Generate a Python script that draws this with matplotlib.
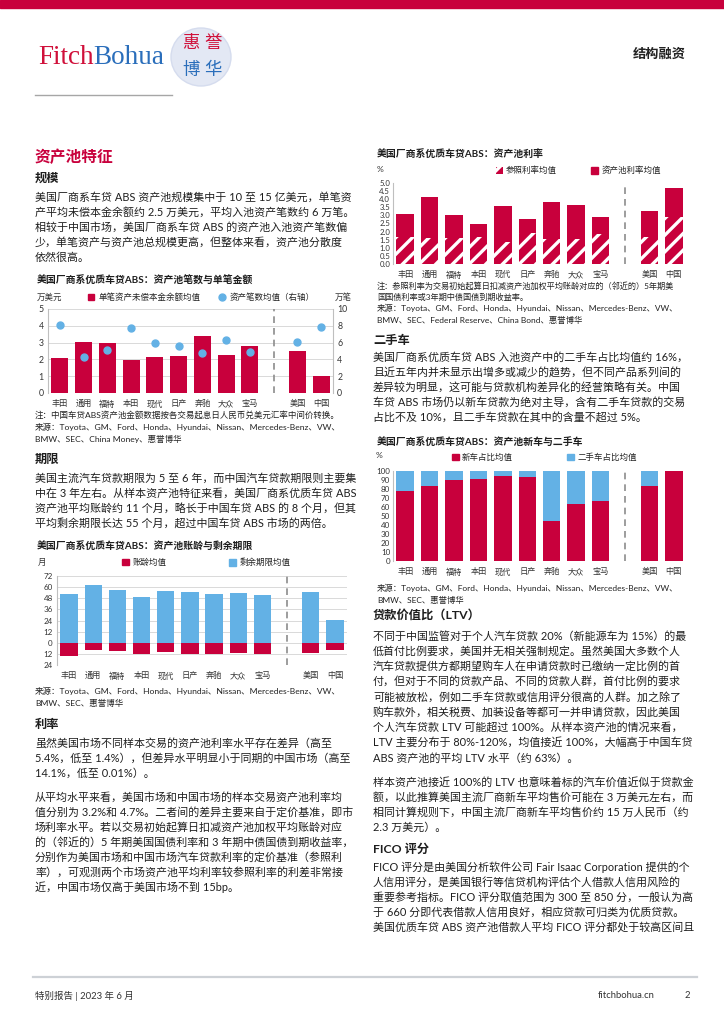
import matplotlib
matplotlib.use('Agg')
import matplotlib.pyplot as plt
from matplotlib.patches import Rectangle, Ellipse, Patch
from matplotlib.lines import Line2D
from matplotlib.ticker import FuncFormatter

W, H = 724, 1024
RED = '#C8003C'
BLUE = '#63B1E5'
GRID = '#D9D9D9'
TXT = '#1e1e1e'

plt.rcParams['font.family'] = ['Lato', 'Noto Sans CJK SC', 'DejaVu Sans']
plt.rcParams['hatch.linewidth'] = 2.4

# ---- chart data ----
brands = ['丰田', '通用', '福特', '本田', '现代', '日产', '奔驰', '大众', '宝马', '美国', '中国']
amount = [2.08, 3.02, 2.98, 1.96, 2.16, 2.22, 3.37, 2.24, 2.82, 2.52, 1.03]   # 万美元
loan_count = [8.1, 4.25, 5.08, 7.7, 5.9, 5.63, 4.72, 6.27, 4.84, 6.03, 7.86]  # 万笔
pool_rate = [3.07, 4.16, 3.03, 2.5, 3.57, 2.77, 3.81, 3.67, 2.93, 3.26, 4.69]
ref_rate = [1.66, 1.58, 1.58, 1.68, 1.37, 1.89, 1.54, 1.54, 1.86, 1.66, 2.93]
new_share = [77.5, 83, 89.7, 90.8, 94.5, 93, 44.6, 63.5, 66.8, 83, 100]
seasoning = [14.0, 7.9, 9.0, 12.5, 10.0, 11.8, 12.2, 10.8, 12.5, 11.1, 8.2]
remaining = [52.7, 62.0, 56.6, 49.1, 56.3, 54.8, 53.0, 54.1, 51.3, 55.2, 24.4]

# ---- page text ----
p_scale = ['美国厂商系车贷 ABS 资产池规模集中于 10 至 15 亿美元，单笔资',
           '产平均未偿本金余额约 2.5 万美元，平均入池资产笔数约 6 万笔。',
           '相较于中国市场，美国厂商系车贷 ABS 的资产池入池资产笔数偏',
           '少，单笔资产与资产池总规模更高，但整体来看，资产池分散度',
           '依然很高。']
note1 = ['注：中国车贷ABS资产池金额数据按各交易起息日人民币兑美元汇率中间价转换。',
         '来源：Toyota、GM、Ford、Honda、Hyundai、Nissan、Mercedes-Benz、VW、',
         'BMW、SEC、China Money、惠誉博华']
p_term = ['美国主流汽车贷款期限为 5 至 6 年，而中国汽车贷款期限则主要集',
          '中在 3 年左右。从样本资产池特征来看，美国厂商系优质车贷 ABS',
          '资产池平均账龄约 11 个月，略长于中国车贷 ABS 的 8 个月，但其',
          '平均剩余期限长达 55 个月，超过中国车贷 ABS 市场的两倍。']
src_basic = ['来源：Toyota、GM、Ford、Honda、Hyundai、Nissan、Mercedes-Benz、VW、',
             'BMW、SEC、惠誉博华']
p_rate1 = ['虽然美国市场不同样本交易的资产池利率水平存在差异（高至',
           '5.4%，低至 1.4%），但差异水平明显小于同期的中国市场（高至',
           '14.1%，低至 0.01%）。']
p_rate2 = ['从平均水平来看，美国市场和中国市场的样本交易资产池利率均',
           '值分别为 3.2%和 4.7%。二者间的差异主要来自于定价基准，即市',
           '场利率水平。若以交易初始起算日扣减资产池加权平均账龄对应',
           '的（邻近的）5 年期美国国债利率和 3 年期中债国债到期收益率，',
           '分别作为美国市场和中国市场汽车贷款利率的定价基准（参照利',
           '率），可观测两个市场资产池平均利率较参照利率的利差非常接',
           '近，中国市场仅高于美国市场不到 15bp。']
note2 = ['注：参照利率为交易初始起算日扣减资产池加权平均账龄对应的（邻近的）5年期美',
         '国国债利率或3年期中债国债到期收益率。',
         '来源：Toyota、GM、Ford、Honda、Hyundai、Nissan、Mercedes-Benz、VW、',
         'BMW、SEC、Federal Reserve、China Bond、惠誉博华']
p_used = ['美国厂商系优质车贷 ABS 入池资产中的二手车占比均值约 16%，',
          '且近五年内并未显示出增多或减少的趋势，但不同产品系列间的',
          '差异较为明显，这可能与贷款机构差异化的经营策略有关。中国',
          '车贷 ABS 市场仍以新车贷款为绝对主导，含有二手车贷款的交易',
          '占比不及 10%，且二手车贷款在其中的含量不超过 5%。']
p_ltv1 = ['不同于中国监管对于个人汽车贷款 20%（新能源车为 15%）的最',
          '低首付比例要求，美国并无相关强制规定。虽然美国大多数个人',
          '汽车贷款提供方都期望购车人在申请贷款时已缴纳一定比例的首',
          '付，但对于不同的贷款产品、不同的贷款人群，首付比例的要求',
          '可能被放松，例如二手车贷款或信用评分很高的人群。加之除了',
          '购车款外，相关税费、加装设备等都可一并申请贷款，因此美国',
          '个人汽车贷款 LTV 可能超过 100%。从样本资产池的情况来看，',
          'LTV 主要分布于 80%-120%，均值接近 100%，大幅高于中国车贷',
          'ABS 资产池的平均 LTV 水平（约 63%）。']
p_ltv2 = ['样本资产池接近 100%的 LTV 也意味着标的汽车价值近似于贷款金',
          '额，以此推算美国主流厂商新车平均售价可能在 3 万美元左右，而',
          '相同计算规则下，中国主流厂商新车平均售价约 15 万人民币（约',
          '2.3 万美元）。']
p_fico = ['FICO 评分是由美国分析软件公司 Fair Isaac Corporation 提供的个',
          '人信用评分，是美国银行等信贷机构评估个人借款人信用风险的',
          '重要参考指标。FICO 评分取值范围为 300 至 850 分，一般认为高',
          '于 660 分即代表借款人信用良好，相应贷款可归类为优质贷款。',
          '美国优质车贷 ABS 资产池借款人平均 FICO 评分都处于较高区间且']

fig = plt.figure(figsize=(W / 100, H / 100), dpi=100)


def fx(x):
    return x / W


def fy(y):
    return 1 - y / H


def put(x, y, s, size, **kw):
    kw.setdefault('color', TXT)
    kw.setdefault('ha', 'left')
    return fig.text(fx(x), fy(y), s, fontsize=size, va='center', **kw)


def block(x, y0, lines, size=7.9, step=15.0, **kw):
    for i, s in enumerate(lines):
        put(x, y0 + i * step, s, size, **kw)


def panel(l, t, r, b):
    ax = fig.add_axes([fx(l), fy(b), (r - l) / W, (b - t) / H])
    for side in ['top', 'right', 'bottom']:
        ax.spines[side].set_visible(False)
    ax.spines['left'].set_color('#BFBFBF')
    ax.tick_params(length=0, labelsize=5.8, colors='#333333', pad=3)
    ax.tick_params(axis='x', labelsize=5.9, pad=4.5)
    ax.set_xlim(-0.5, 11.5)
    return ax


def key(handle, label, x, y):
    fig.legend([handle], [label], loc='center left', bbox_to_anchor=(fx(x), fy(y)),
               frameon=False, fontsize=6.1, handlelength=0.8, handleheight=0.8,
               handletextpad=0.4, borderpad=0, borderaxespad=0, labelcolor='#222222')


# slot 9 is the gap between brands and market averages
xpos = [i if i < 9 else i + 1 for i in range(len(brands))]
bw = 0.72

# ---- header ----
fig.patches.append(Rectangle((0, fy(8)), 1, 8 / H, transform=fig.transFigure,
                             color=RED, zorder=0))
t = fig.text(fx(38), fy(57), 'Fitch', fontsize=19.5, color='#D0103A',
             family='Liberation Serif', va='center')
r = fig.canvas.get_renderer()
bb = t.get_window_extent(renderer=r)
fig.text(bb.x1 / W, fy(57), 'Bohua', fontsize=19.5, color='#2A6EBB',
         family='Liberation Serif', va='center')
fig.patches.append(Ellipse((fx(201), fy(57)), 60 / W, 58 / H, transform=fig.transFigure,
                           facecolor='#E3E8F4', edgecolor='#D5DCEE', lw=1))
put(191, 43, '惠', 12.5, color='#D0103A', ha='center')
put(213, 43, '誉', 12.5, color='#D0103A', ha='center')
put(191, 70, '博', 12.5, color='#2A6EBB', ha='center')
put(213, 70, '华', 12.5, color='#2A6EBB', ha='center')
put(686, 54, '结构融资', 9.5, weight='bold', ha='right', color='#222222')
fig.add_artist(Line2D([fx(35), fx(172)], [fy(95), fy(95)], color='#A6A6A6', lw=1))

# ---- left column text ----
put(35, 157, '资产池特征', 11.3, weight='bold', color=RED)
put(35, 178, '规模', 8.8, weight='bold')
block(35, 197, p_scale)

# ---- chart 1: amount & count ----
put(37, 281, '美国厂商系优质车贷ABS：资产池笔数与单笔金额', 7.1, weight='bold')
put(37, 297, '万美元', 6.1, color='#333333')
put(335, 297, '万笔', 6.1, color='#333333')
ax1 = panel(48, 309, 333, 393)
ax1.grid(axis='y', color=GRID, lw=0.7, zorder=0)
ax1.bar(xpos, amount, width=bw, color=RED, zorder=2)
ax1.set_ylim(0, 5)
ax1.set_yticks(range(6))
ax1.set_xticks(xpos, brands)
ax1.tick_params(axis='y', labelsize=6.3)
ax1.axvline(9, color='#8C8C8C', ls=(0, (4, 3)), lw=1.2, zorder=3)
ax1r = ax1.twinx()
for side in ['top', 'left', 'bottom']:
    ax1r.spines[side].set_visible(False)
ax1r.spines['right'].set_color('#BFBFBF')
ax1r.plot(xpos, loan_count, 'o', color=BLUE, ms=5, zorder=4)
ax1r.set_ylim(0, 10)
ax1r.set_yticks(range(0, 11, 2))
ax1r.tick_params(length=0, labelsize=6.3, colors='#333333', pad=3)
key(Line2D([], [], marker='s', ls='', color=RED, ms=5), '单笔资产未偿本金余额均值', 88, 297)
key(Line2D([], [], marker='o', ls='', color=BLUE, ms=5), '资产笔数均值（右轴）', 219, 297)
block(35, 415, note1, size=6.1, step=12, color='#222222')

put(35, 459, '期限', 8.8, weight='bold')
block(35, 478, p_term)

# ---- chart 4: seasoning & remaining term ----
put(37, 547, '美国厂商系优质车贷ABS：资产池账龄与剩余期限', 7.1, weight='bold')
put(38, 562, '月', 6.1, color='#333333')
ax4 = panel(57, 576, 347, 665)
ax4.grid(axis='y', color=GRID, lw=0.7, zorder=0)
ax4.bar(xpos, remaining, width=bw, color=BLUE, zorder=2)
ax4.bar(xpos, [-v for v in seasoning], width=bw, color=RED, zorder=2)
ax4.set_ylim(-24, 72)
ax4.set_yticks(range(-24, 73, 12))
ax4.yaxis.set_major_formatter(FuncFormatter(lambda v, p: f'{abs(v):.0f}'))
ax4.set_xticks(xpos, brands)
ax4.axvline(9, color='#8C8C8C', ls=(0, (4, 3)), lw=1.2, zorder=3)
key(Patch(color=RED), '账龄均值', 122, 562)
key(Patch(color=BLUE), '剩余期限均值', 229, 562)
block(35, 691, src_basic, size=6.1, step=12, color='#222222')

put(35, 724, '利率', 8.8, weight='bold')
block(35, 743, p_rate1)
block(35, 797, p_rate2)

# ---- chart 2: pool rate ----
put(377, 154, '美国厂商系优质车贷ABS：资产池利率', 7.1, weight='bold')
put(377, 170, '%', 6.1, color='#333333')
ax2 = panel(393, 183, 686, 264)
ax2.bar(xpos, pool_rate, width=bw, color=RED, zorder=2)
ax2.bar(xpos, ref_rate, width=bw, color=RED, edgecolor='white', hatch='//', lw=0, zorder=3)
ax2.set_ylim(0, 5)
ax2.set_yticks([i * 0.5 for i in range(11)])
ax2.yaxis.set_major_formatter(FuncFormatter(lambda v, p: f'{v:.1f}'))
ax2.tick_params(axis='y', labelsize=5.6, pad=2)
ax2.set_xticks(xpos, brands)
ax2.axvline(9, color='#8C8C8C', ls=(0, (4, 3)), lw=1.2, zorder=4)
key(Patch(facecolor=RED, edgecolor='white', hatch='//', lw=0), '参照利率均值', 496, 170)
key(Patch(color=RED), '资产池利率均值', 591, 170)
block(377, 286, note2[:2], size=5.9, step=11, color='#222222')
block(377, 308, note2[2:], size=6.0, step=11.5, color='#222222')

put(373, 340, '二手车', 8.8, weight='bold')
block(373, 357, p_used)

# ---- chart 3: new vs used ----
put(377, 442, '美国厂商系优质车贷ABS：资产池新车与二手车', 7.1, weight='bold')
put(376, 456, '%', 6.1, color='#333333')
ax3 = panel(393, 471, 686, 561)
ax3.bar(xpos, new_share, width=bw, color=RED, zorder=2)
ax3.bar(xpos, [100 - v for v in new_share], bottom=new_share, width=bw, color=BLUE, zorder=2)
ax3.set_ylim(0, 100)
ax3.set_yticks(range(0, 101, 10))
ax3.tick_params(axis='y', labelsize=5.8, pad=2)
ax3.set_xticks(xpos, brands)
ax3.axvline(9, color='#8C8C8C', ls=(0, (4, 3)), lw=1.2, zorder=3)
key(Patch(color=RED), '新车占比均值', 452, 457)
key(Patch(color=BLUE), '二手车占比均值', 567, 457)
block(377, 588, src_basic, size=6.0, step=11.5, color='#222222')

put(373, 615, '贷款价值比（LTV）', 8.8, weight='bold')
block(373, 636, p_ltv1, step=15.25)
block(373, 782, p_ltv2)
put(373, 849, 'FICO 评分', 8.8, weight='bold')
block(373, 867, p_fico)

# ---- footer ----
fig.add_artist(Line2D([fx(33), fx(697)], [fy(977), fy(977)], color='#CDD1D6', lw=1.6))
put(35, 996, '特别报告 | 2023 年 6 月', 6.8, color='#333333')
put(655, 996, 'fitchbohua.cn', 6.8, color='#333333', ha='right')
put(690, 996, '2', 6.8, color='#333333', ha='right')

fig.savefig('out.png', dpi=100)
